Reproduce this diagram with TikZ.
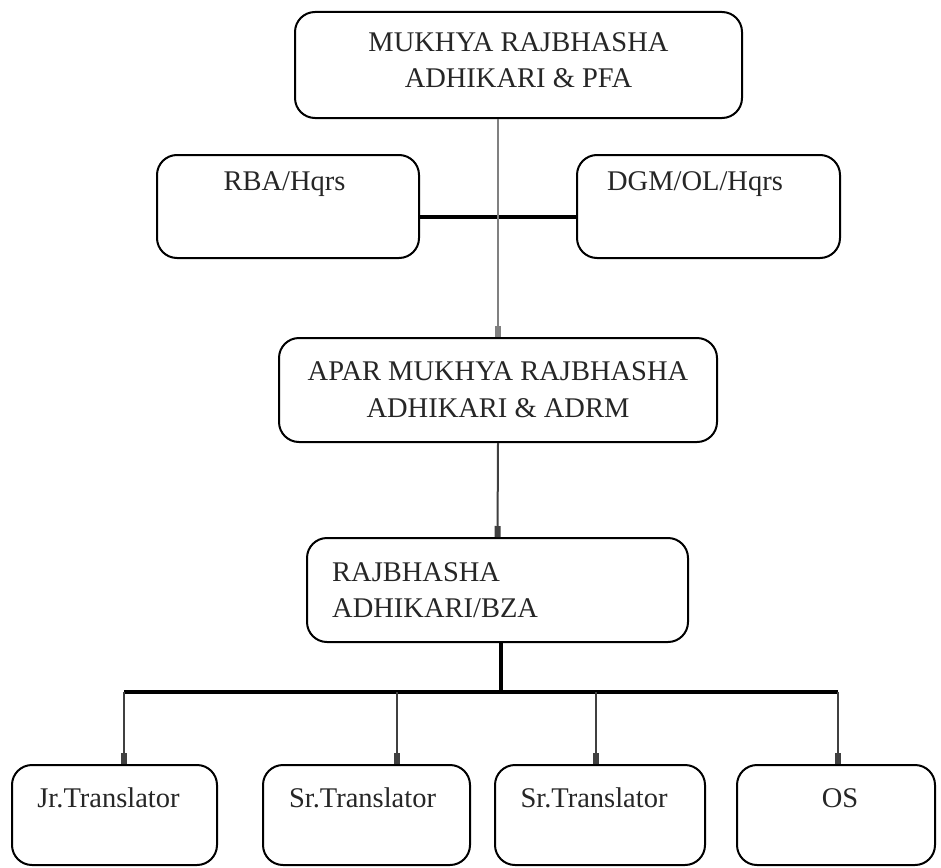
\documentclass[tikz,border=0pt]{standalone}
\usepackage{fontspec}
\setmainfont{Liberation Serif}
\usetikzlibrary{arrows.meta}
\begin{document}
\begin{tikzpicture}[x=1pt,y=-1pt,
  box/.style={draw=black, line width=2pt, rounded corners=20pt, inner sep=0pt},
  txt/.style={inner sep=0pt, font=\fontsize{28.5}{36.5}\selectfont, text=black!85},
  thickline/.style={draw=black, line width=3.3pt},
  greyline/.style={draw=black!50, line width=2pt},
  arr/.style={draw=black!75, line width=2pt, -{Rectangle[length=11pt,width=6pt]}}]
\useasboundingbox (0,0) rectangle (941,867);
\fill[white] (0,0) rectangle (941,867);
% boxes
\node[box, minimum width=447pt, minimum height=106pt] (top) at (518.5,65) {};
\node[box, minimum width=262pt, minimum height=103pt] (rba) at (288,206.5) {};
\node[box, minimum width=263pt, minimum height=103pt] (dgm) at (708.5,206.5) {};
\node[box, minimum width=438pt, minimum height=104pt] (apar) at (498,390) {};
\node[box, minimum width=381pt, minimum height=104pt] (raj) at (497.5,590) {};
\node[box, minimum width=205pt, minimum height=100pt] (jr) at (114.5,815) {};
\node[box, minimum width=207pt, minimum height=100pt] (sr) at (366.5,815) {};
\node[box, minimum width=210pt, minimum height=100pt] (srb) at (600,815) {};
\node[box, minimum width=198pt, minimum height=100pt] (os) at (836,815) {};
% texts
\node[txt, align=center] (toptxt) at (518.5,60) {MUKHYA RAJBHASHA\\ADHIKARI \& PFA};
\node[txt, anchor=base] (rbatxt) at (284.5,190) {RBA/Hqrs};
\node[txt, anchor=base] (dgmtxt) at (695,190) {DGM/OL/Hqrs};
\node[txt, align=center] (apartxt) at (498,389.5) {APAR MUKHYA RAJBHASHA\\ADHIKARI \& ADRM};
\node[txt, align=left, anchor=west] (rajtxt) at (332,590) {RAJBHASHA\\ADHIKARI/BZA};
\node[txt, anchor=base] (jrtxt) at (108.5,807) {Jr.Translator};
\node[txt, anchor=base] (srtxt) at (362.5,807) {Sr.Translator};
\node[txt, anchor=base] (srbtxt) at (594,807) {Sr.Translator};
\node[txt, anchor=base] (ostxt) at (840,807) {OS};
% connectors
\draw[thickline] ([yshift=-10.5pt]rba.east) -- ([yshift=-10.5pt]dgm.west);
\draw[greyline, -{Rectangle[length=11pt,width=6pt]}] (top.south -| apar.north) -- (apar.north);
\draw[arr] (apar.south) -- (raj.north);
\coordinate (hub) at (501,692);
\coordinate (a1) at (124,692);
\coordinate (a2) at (397,692);
\coordinate (a3) at (596,692);
\coordinate (a4) at (838,692);
\draw[thickline] (hub |- raj.south) -- (hub);
\draw[thickline] (a1) -- (a4);
\draw[arr] (a1) -- (a1 |- jr.north);
\draw[arr] (a2) -- (a2 |- sr.north);
\draw[arr] (a3) -- (a3 |- srb.north);
\draw[arr] (a4) -- (a4 |- os.north);
\end{tikzpicture}
\end{document}
